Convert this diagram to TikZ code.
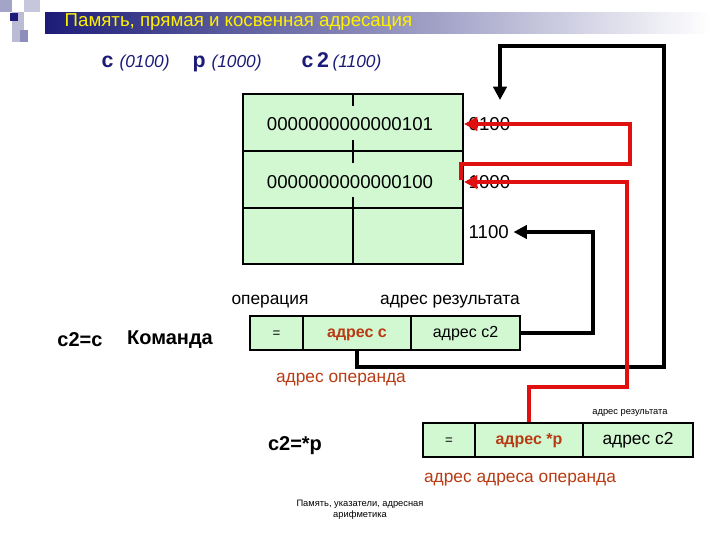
\documentclass[tikz,border=0pt]{standalone}
\usepackage{fontspec}
\setmainfont{Liberation Sans}
\usetikzlibrary{arrows.meta}
\definecolor{cellg}{HTML}{D2F8D2}
\definecolor{navy}{HTML}{1C1C78}
\definecolor{rb}{HTML}{B83A12}
\definecolor{lred}{HTML}{E01010}
\tikzset{cell/.style={draw,line width=1.4pt,fill=cellg,minimum height=25.5pt,inner sep=0,text height=1.6ex,text depth=0.4ex},
 blk/.style={line width=2.4pt,-{Triangle[length=10pt,width=10pt]}},
 red/.style={line width=2.8pt,draw=lred,-{Triangle[length=10pt,width=10pt]}},
 lab/.style={font=\fontsize{13}{15}\selectfont}}
\begin{document}
\begin{tikzpicture}[x=0.75pt,y=-0.75pt]
\useasboundingbox (0,0) rectangle (720,540);
% title bar
\shade[left color=navy,right color=white] (45,12) rectangle (710,33);
\fill[navy!40] (0,0) rectangle (12,12);
\fill[navy!30] (12,12) rectangle (24,42);
\fill[navy!25] (24,0) rectangle (40,12);
\fill[navy!50] (20,30) rectangle (28,42);
\fill[navy] (10,13) rectangle (18,21);
\node[anchor=west,text=yellow,font=\fontsize{14}{16}\selectfont] (title) at (60,22) {Память, прямая и косвенная адресация};
\node[anchor=west,text=navy,font=\bfseries\fontsize{16}{18}\selectfont] (vars) at (97,62) {c \textit{\mdseries\fontsize{13}{15}\selectfont (0100)}\hspace{0.8em} p \textit{\mdseries\fontsize{13}{15}\selectfont (1000)}\hspace{1.6em} c\,2\,\textit{\mdseries\fontsize{13}{15}\selectfont (1100)}};
% memory table
\draw[line width=1.4pt,fill=cellg] (243,94) rectangle (463,264);
\draw[line width=1.4pt] (243,151) -- (463,151) (243,208) -- (463,208);
\draw[line width=1.2pt] (353,94) -- (353,106) (353,140) -- (353,163) (353,197) -- (353,264);
\node[font=\fontsize{14}{16}\selectfont] (m1) at (350,124) {0000000000000101};
\node[font=\fontsize{14}{16}\selectfont] (m2) at (350,182) {0000000000000100};
\node[font=\fontsize{14}{16}\selectfont,anchor=west] (a1) at (464,124) {0100};
\node[font=\fontsize{14}{16}\selectfont,anchor=west] (a2) at (464,182) {1000};
\node[font=\fontsize{14}{16}\selectfont,anchor=west] (a3) at (464,232) {1100};
% command 1
\node[cell,minimum width=0.75*53pt] (op1) at (276.5,333) {=};
\node[cell,minimum width=0.75*108pt,text=rb,font=\bfseries\fontsize{12}{14}\selectfont] (ad1) at (357,333) {адрес c};
\node[cell,minimum width=0.75*109pt,font=\fontsize{12}{14}\selectfont] (r1) at (465.5,333) {адрес c2};
\node[lab] (opl) at (270,302) {операция};
\node[lab] (rl) at (450,302) {адрес результата};
\node[font=\bfseries\fontsize{15}{17}\selectfont] (c2c) at (80,340) {c2=c};
\node[font=\bfseries\fontsize{15}{17}\selectfont] (kom) at (170,340) {Команда};
\node[lab,text=rb] (aop) at (341,380) {адрес операнда};
% command 2
\node[cell,minimum width=0.75*52pt] (op2) at (449,440) {=};
\node[cell,minimum width=0.75*108pt,text=rb,font=\bfseries\fontsize{12}{14}\selectfont] (ad2) at (529,440) {адрес *p};
\node[cell,minimum width=0.75*110pt,font=\fontsize{13}{15}\selectfont] (r2) at (638,440) {адрес c2};
\node[font=\scriptsize] (rl2) at (630,413) {адрес результата};
\node[font=\bfseries\fontsize{15}{17}\selectfont] (c2p) at (295,446) {c2=*p};
\node[lab,text=rb] (aaop) at (520,480) {адрес адреса операнда};
\node[font=\scriptsize,align=center] (foot) at (360,510) {Память, указатели, адресная\\арифметика};
% connectors
\coordinate (topin) at (500,100);
\draw[blk] (ad1.south) -- ++(0,16) -| (664,46) -| (topin);
\draw[blk] (r1.east) -- (593,333) |- (a3.east);
\draw[red] (ad2.north) |- (627,387) |- (a2.west);
\draw[red] (461,180) |- (630,164) |- (a1.west);
\end{tikzpicture}
\end{document}
